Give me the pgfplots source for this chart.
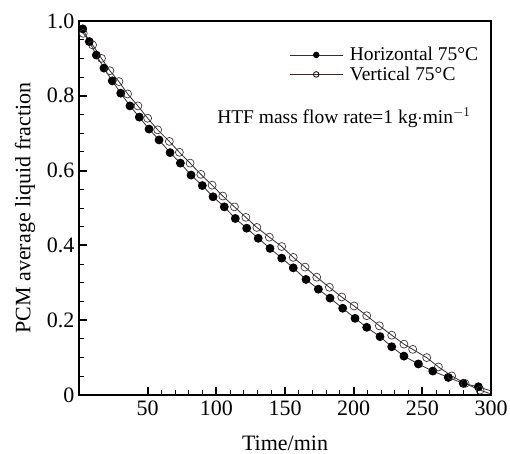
\documentclass[border=0pt]{standalone}
\usepackage{pgfplots}
\pgfplotsset{compat=1.18}
\usepackage{fontspec}
\setmainfont{Liberation Serif}
\definecolor{lc}{RGB}{60,45,45}
\newcommand{\fs}{\fontsize{16.5}{18}\selectfont}
\newcommand{\fl}{\fontsize{14.6}{16}\selectfont}
\begin{document}
\begin{tikzpicture}
\begin{axis}[
  at={(0,0)}, anchor=south west,
  scale only axis, width=309pt, height=280.5pt,
  xmin=0, xmax=300, ymin=0, ymax=1,
  xtick={50,100,150,200,250,300},
  minor x tick num=4,
  ytick={0,0.2,0.4,0.6,0.8,1.0},
  yticklabels={0,0.2,0.4,0.6,0.8,1.0},
  minor y tick num=3,
  tick pos=left,
  tick align=inside,
  major tick length=6pt,
  minor tick length=3.5pt,
  every major tick/.style={line width=1.4pt,black},
  every minor tick/.style={line width=0.7pt,black},
  axis line style={line width=1.1pt},
  /pgf/number format/assume math mode=true,
  tick label style={font=\fs},
  xticklabel style={yshift=-1pt},
  xlabel={Time/min},
  ylabel={PCM average liquid fraction},
  every axis x label/.style={at={(axis description cs:0.5,-0.128)},anchor=center,font=\fs},
  every axis y label/.style={at={(axis description cs:-0.131,0.5)},rotate=90,anchor=center,font=\fs},
  legend style={at={(0.5,0.945)},anchor=north west,draw=none,fill=none,font=\fl,row sep=-1pt,
    nodes={inner xsep=5pt}},
  legend cell align=left,
  legend image code/.code={\draw[mark=none] (0cm,0cm) -- (1.4cm,0cm); \draw[mark indices={1},mark options={scale=0.7,draw=black,fill=black}] plot[only marks] coordinates {(0.7cm,0cm)};},
  clip=false,
]
\addplot[lc, line width=0.6pt, mark=*, mark size=3pt, mark options={fill=black,draw=black}, mark indices={2,...,37}] coordinates {
(0,0.988) (2.7,0.979) (7.5,0.945) (12.6,0.909) (18.2,0.874) (24.2,0.840) (30.4,0.807) (37.1,0.773) (43.9,0.743) (51,0.711)
(58.3,0.682) (66.3,0.648) (73.8,0.620) (81.6,0.588) (89.8,0.560) (97.6,0.530) (105.8,0.503) (113.8,0.472) (122.1,0.446) (130.5,0.419)
(139.1,0.392) (147.6,0.366) (156.0,0.340) (165.3,0.309) (174.3,0.283) (182.8,0.259) (192.0,0.232) (201.0,0.205) (209.5,0.181) (219.2,0.156)
(227.7,0.129) (236.6,0.104) (247.1,0.083) (257.6,0.064) (268.9,0.047) (279.8,0.031) (290.8,0.022) (299,0.012)
};
\addlegendentry{Horizontal 75\textdegree C}
\addplot[lc, line width=0.6pt, mark=o, mark size=3pt, mark options={draw=black!80,fill=white,line width=0.5pt}, mark indices={2,...,37}] coordinates {
(0,0.978) (3.1,0.967) (9.9,0.936) (16.4,0.900) (22.5,0.867) (29.1,0.838) (35.4,0.805) (42.9,0.773) (50.0,0.740) (57.3,0.709)
(65.8,0.678) (73.1,0.649) (80.9,0.620) (88.7,0.590) (96.9,0.561) (104.7,0.532) (113.2,0.503) (121.5,0.475) (129.5,0.448) (138.6,0.422)
(147.6,0.397) (156.0,0.368) (164.6,0.342) (173.1,0.315) (182.3,0.288) (191.3,0.262) (200.3,0.238) (209.5,0.212) (218.7,0.185) (227.7,0.160)
(236.6,0.136) (243.0,0.122) (253.2,0.100) (261.7,0.075) (271.4,0.051) (281.1,0.031) (292.0,0.013) (299,0.004)
};
\addlegendentry{Vertical 75\textdegree C}
\node[anchor=west,font=\fl,inner sep=0pt] at (axis cs:100.5,0.741) {HTF mass flow rate=1 kg$\cdot$min$^{-1}$};
\end{axis}
\pgfresetboundingbox
\path (-59.25pt,-43.5pt) rectangle (323.25pt,296.25pt);
\end{tikzpicture}
\end{document}
